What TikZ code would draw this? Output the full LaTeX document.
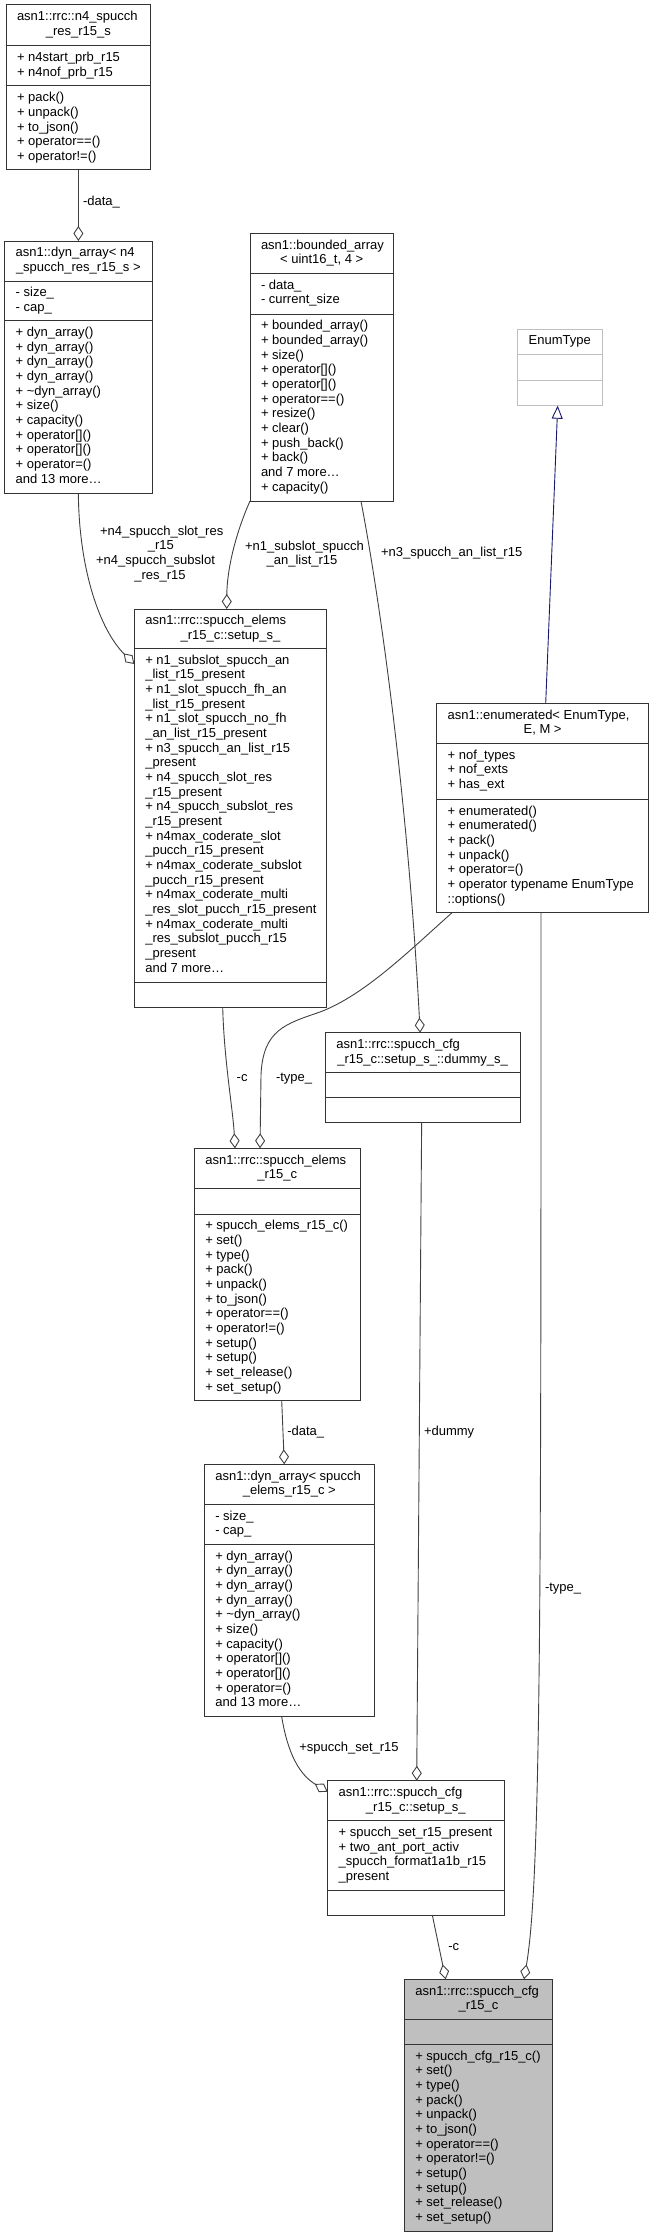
\documentclass[tikz,border=0pt]{standalone}
\usepackage{fontspec}
\setmainfont{Liberation Sans}
\usetikzlibrary{arrows.meta}
\definecolor{edgec}{HTML}{404040}
\definecolor{boxc}{HTML}{333333}
\definecolor{grayfill}{HTML}{BFBFBF}
\definecolor{enumc}{HTML}{BFBFBF}
\definecolor{inhc}{HTML}{191970}
\tikzset{
 cbox/.style={draw=boxc, line width=1pt, inner sep=0pt, outer sep=0pt, rectangle},
 cline/.style={draw=boxc, line width=1pt},
 txt/.style={inner sep=0pt, outer sep=0pt, font=\fontsize{13}{14.67}\selectfont, text=black},
 agg/.style={draw=edgec, line width=0.9pt, -{Diamond[open, length=15pt, width=10pt]}},
 inh/.style={draw=inhc, line width=0.9pt, -{Triangle[open, length=13pt, width=11pt]}},
}
\newcommand\umlbox[8]{%
 \pgfmathsetmacro\bw{#4-#2}\pgfmathsetmacro\bh{#7-#3}%
 \node[cbox, #8, minimum width=\bw pt, minimum height=\bh pt, anchor=north west] (#1) at (#2,#3) {};
 \draw[cline, #8] (#2,#5) -- (#4,#5) (#2,#6) -- (#4,#6);}
\newcommand\ttl[6]{%
 \node[txt, anchor=base west] (#1a) at ({#2+11},{#3+15.8}) {#5};
 \node[txt, anchor=base] (#1b) at ({(#2+#4)/2},{#3+15.8+14.67}) {#6};}
\newcommand\rows[5]{%
 \foreach \t [count=\i from 0] in {#5} {\node[txt, anchor=#4] (#1\i) at ({#2},{#3+15.8+\i*14.67}) {\t};}}
\begin{document}
\begin{tikzpicture}[x=1pt, y=-1pt]
\useasboundingbox (0,0) rectangle (651,2237);

% B1
\umlbox{b1}{6}{5}{150.7}{46}{86}{170}{}
\ttl{b1t}{6}{5}{150.7}{asn1::rrc::n4\_spucch}{\_res\_r15\_s}
\rows{b1a}{17}{46}{base west}{+ n4start\_prb\_r15,+ n4nof\_prb\_r15}
\rows{b1m}{17}{86}{base west}{+ pack(),+ unpack(),+ to\_json(),+ operator==(),+ operator!=()}

% B2
\umlbox{b2}{4.7}{241}{152}{281}{320.7}{493.3}{}
\ttl{b2t}{4.7}{241}{152}{asn1::dyn\_array< n4}{\_spucch\_res\_r15\_s >}
\rows{b2a}{15.7}{281}{base west}{- size\_,- cap\_}
\rows{b2m}{15.7}{320.7}{base west}{+ dyn\_array(),+ dyn\_array(),+ dyn\_array(),+ dyn\_array(),+ \textasciitilde{}dyn\_array(),+ size(),+ capacity(),+ operator[](),+ operator[](),+ operator=(),and 13 more…}

% B3
\umlbox{b3}{250}{233.3}{393.3}{273.3}{314}{501}{}
\ttl{b3t}{250}{233.3}{393.3}{asn1::bounded\_array}{< uint16\_t, 4 >}
\rows{b3a}{261}{273.3}{base west}{- data\_,- current\_size}
\rows{b3m}{261}{314}{base west}{+ bounded\_array(),+ bounded\_array(),+ size(),+ operator[](),+ operator[](),+ operator==(),+ resize(),+ clear(),+ push\_back(),+ back(),and 7 more…,+ capacity()}

% B4
\umlbox{b4}{517.3}{329}{602.3}{354}{380}{405.7}{draw=enumc}
\node[txt, anchor=base] (b4t) at (559.8,344.8) {EnumType};

% B5
\umlbox{b5}{436.7}{703.3}{648.5}{743.3}{799.3}{912.3}{}
\ttl{b5t}{436.7}{703.3}{648.5}{asn1::enumerated< EnumType,}{E, M >}
\rows{b5a}{447.7}{743.3}{base west}{+ nof\_types,+ nof\_exts,+ has\_ext}
\rows{b5m}{447.7}{799.3}{base west}{+ enumerated(),+ enumerated(),+ pack(),+ unpack(),+ operator=(),+ operator typename EnumType,::options()}

% B6
\umlbox{b6}{134.3}{609}{326.7}{648.3}{982.3}{1007.3}{}
\ttl{b6t}{134.3}{609}{326.7}{asn1::rrc::spucch\_elems}{\_r15\_c::setup\_s\_}
\rows{b6a}{145.3}{648.3}{base west}{+ n1\_subslot\_spucch\_an,\_list\_r15\_present,+ n1\_slot\_spucch\_fh\_an,\_list\_r15\_present,+ n1\_slot\_spucch\_no\_fh,\_an\_list\_r15\_present,+ n3\_spucch\_an\_list\_r15,\_present,+ n4\_spucch\_slot\_res,\_r15\_present,+ n4\_spucch\_subslot\_res,\_r15\_present,+ n4max\_coderate\_slot,\_pucch\_r15\_present,+ n4max\_coderate\_subslot,\_pucch\_r15\_present,+ n4max\_coderate\_multi,\_res\_slot\_pucch\_r15\_present,+ n4max\_coderate\_multi,\_res\_subslot\_pucch\_r15,\_present,and 7 more…}

% B7
\umlbox{b7}{325.3}{1032.7}{520}{1072.7}{1097.3}{1122.3}{}
\ttl{b7t}{325.3}{1032.7}{520}{asn1::rrc::spucch\_cfg}{\_r15\_c::setup\_s\_::dummy\_s\_}

% B8
\umlbox{b8}{194.3}{1148.3}{360}{1188.3}{1214}{1400.7}{}
\ttl{b8t}{194.3}{1148.3}{360}{asn1::rrc::spucch\_elems}{\_r15\_c}
\rows{b8m}{205.3}{1214}{base west}{+ spucch\_elems\_r15\_c(),+ set(),+ type(),+ pack(),+ unpack(),+ to\_json(),+ operator==(),+ operator!=(),+ setup(),+ setup(),+ set\_release(),+ set\_setup()}

% B9
\umlbox{b9}{204.3}{1464.3}{374.3}{1504.3}{1544.3}{1716.7}{}
\ttl{b9t}{204.3}{1464.3}{374.3}{asn1::dyn\_array< spucch}{\_elems\_r15\_c >}
\rows{b9a}{215.3}{1504.3}{base west}{- size\_,- cap\_}
\rows{b9m}{215.3}{1544.3}{base west}{+ dyn\_array(),+ dyn\_array(),+ dyn\_array(),+ dyn\_array(),+ \textasciitilde{}dyn\_array(),+ size(),+ capacity(),+ operator[](),+ operator[](),+ operator=(),and 13 more…}

% B10
\umlbox{b10}{327.7}{1780.7}{504}{1820.7}{1890}{1915}{}
\ttl{b10t}{327.7}{1780.7}{504}{asn1::rrc::spucch\_cfg}{\_r15\_c::setup\_s\_}
\rows{b10a}{338.7}{1820.7}{base west}{+ spucch\_set\_r15\_present,+ two\_ant\_port\_activ,\_spucch\_format1a1b\_r15,\_present}

% B11
\umlbox{b11}{404.3}{1979.3}{552.7}{2019.3}{2044.3}{2231.7}{fill=grayfill}
\ttl{b11t}{404.3}{1979.3}{552.7}{asn1::rrc::spucch\_cfg}{\_r15\_c}
\rows{b11m}{415.3}{2044.3}{base west}{+ spucch\_cfg\_r15\_c(),+ set(),+ type(),+ pack(),+ unpack(),+ to\_json(),+ operator==(),+ operator!=(),+ setup(),+ setup(),+ set\_release(),+ set\_setup()}

% connectors
\draw[agg] (b1.south) -- (b2.north);
\node[txt, anchor=base west] (l1) at (83,205.5) {-data\_};

\draw[agg] (b2.south) .. controls (79,570) and (100,630) .. ([yshift=-55pt]b6.north west);
\node[txt, anchor=base] (l2a) at (161.7,535.2) {+n4\_spucch\_slot\_res};
\node[txt, anchor=base] (l2b) at (160.8,549.7) {\_r15};
\node[txt, anchor=base] (l2c) at (155.5,564.2) {+n4\_spucch\_subslot};
\node[txt, anchor=base] (l2d) at (160,579.2) {\_res\_r15};

\draw[agg] (b3.south west) .. controls (235,535) and (227,570) .. ([xshift=-3.8pt]b6.north);
\node[txt, anchor=base] (l3a) at (304.5,550) {+n1\_subslot\_spucch};
\node[txt, anchor=base] (l3b) at (302,564.5) {\_an\_list\_r15};

\draw[agg] ([xshift=39.3pt]b3.south) .. controls (380,600) and (408,800) .. ([xshift=-2.5pt]b7.north);
\node[txt, anchor=base west] (l4) at (381,556.5) {+n3\_spucch\_an\_list\_r15};

\draw[agg] ([xshift=-7.8pt]b6.south) .. controls (224,1060) and (233,1110) .. ([xshift=-42.15pt]b8.north);
\node[txt, anchor=base west] (l5) at (236.7,1081.2) {-c};

\draw[agg] ([xshift=-90.1pt]b5.south) .. controls (410,950) and (365,995) .. (320,1012) .. controls (285,1024) and (263,1030) .. (261,1075) -- ([xshift=-17.15pt]b8.north);
\node[txt, anchor=base west] (l6) at (276,1081.2) {-type\_};

\draw[agg] ([xshift=4.55pt]b8.south) -- ([xshift=-5pt]b9.north);
\node[txt, anchor=base west] (l11) at (287.3,1435.2) {-data\_};

\draw[agg] ([xshift=-1pt]b7.south) -- ([xshift=0.85pt]b10.north);
\node[txt, anchor=base west] (l7) at (424,1435.5) {+dummy};

\draw[agg] ([xshift=-7.6pt]b9.south) .. controls (288,1755) and (300,1775) .. ([yshift=-11pt]b10.north west);
\node[txt, anchor=base west] (l8) at (299.3,1751.2) {+spucch\_set\_r15};

\draw[agg] ([xshift=16.45pt]b10.south) -- ([xshift=-32.8pt]b11.north);
\node[txt, anchor=base west] (l9) at (448.3,1950.8) {-c};

\draw[agg] ([xshift=-1.6pt]b5.south) .. controls (541,1600) and (541,1880) .. ([xshift=45.5pt]b11.north);
\node[txt, anchor=base west] (l10) at (545,1591) {-type\_};

\draw[inh] ([xshift=3.1pt]b5.north) -- ([xshift=-2.1pt]b4.south);
\end{tikzpicture}
\end{document}
